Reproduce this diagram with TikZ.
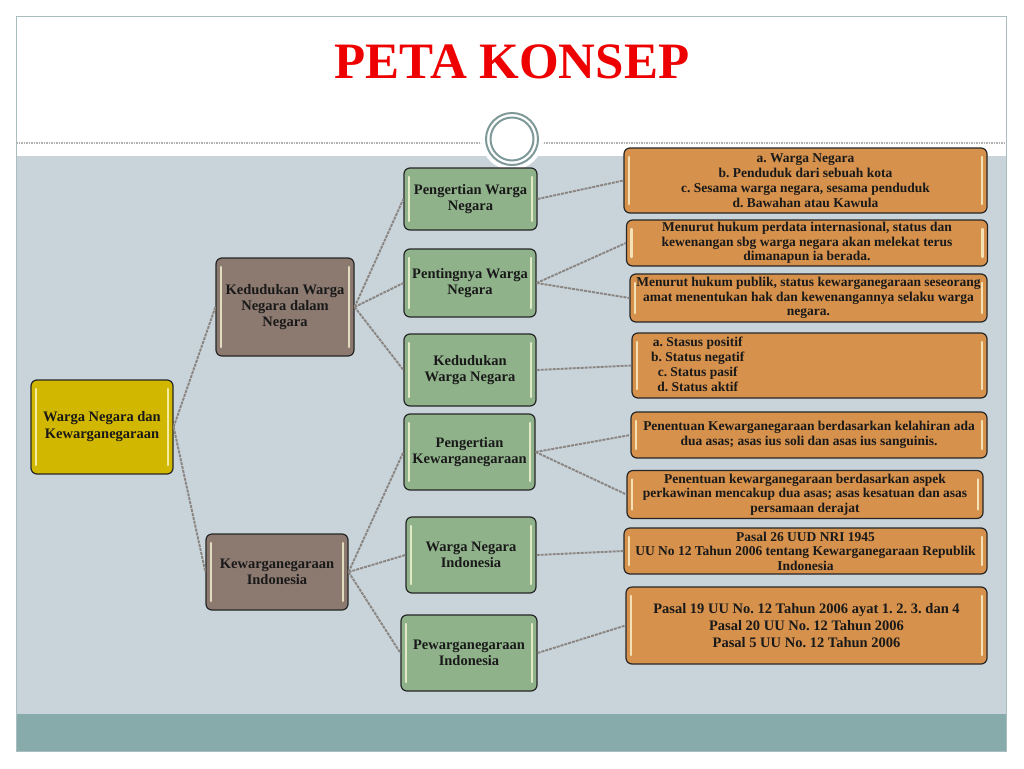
\documentclass[tikz,border=0pt]{standalone}
\usepackage{fontspec}
\setmainfont{Liberation Serif}
\usepackage{tikz}
\frenchspacing

\definecolor{slideGray}{HTML}{C8D3DA}
\definecolor{slideTeal}{HTML}{87ABAB}
\definecolor{frameLine}{HTML}{A9BDBF}
\definecolor{ringGray}{HTML}{7F9999}
\definecolor{titleRed}{HTML}{EE0000}
\definecolor{rootYellow}{HTML}{D2B700}
\definecolor{midBrown}{HTML}{8C7A70}
\definecolor{leafGreen}{HTML}{8FB28A}
\definecolor{noteOrange}{HTML}{D6914C}
\definecolor{linkGray}{HTML}{8A8580}

\begin{document}
\begin{tikzpicture}[x=1pt, y=-1pt,
  box/.style={draw=black!85, line width=1.2pt, rounded corners=6pt, inner sep=0pt,
    align=center, text=black!90,
    path picture={
      \draw[white!85!yellow, opacity=0.75, line width=2.4pt, line cap=round]
        ([xshift=5pt,yshift=-9pt]path picture bounding box.north west) --
        ([xshift=5pt,yshift=9pt]path picture bounding box.south west);
      \draw[white!85!yellow, opacity=0.75, line width=2.4pt, line cap=round]
        ([xshift=-5pt,yshift=-9pt]path picture bounding box.north east) --
        ([xshift=-5pt,yshift=9pt]path picture bounding box.south east);}},
  rootbox/.style={box, fill=rootYellow, font=\fontsize{14.5}{17}\selectfont\bfseries},
  midbox/.style={box, fill=midBrown, font=\fontsize{14.5}{16}\selectfont\bfseries},
  leafbox/.style={box, fill=leafGreen, font=\fontsize{14.5}{16}\selectfont\bfseries},
  notebox/.style={box, fill=noteOrange, font=\fontsize{13.5}{14.5}\selectfont\bfseries},
  link/.style={draw=linkGray, line width=1.9pt, dash pattern=on 3pt off 1pt}]
\useasboundingbox (0,0) rectangle (1024,768);
\fill[white] (0,0) rectangle (1024,768);
% slide
\fill[slideGray] (16,156) rectangle (1006,714);
\fill[slideTeal] (16,714) rectangle (1006,751);
\draw[frameLine, line width=1pt] (16,17) rectangle (1006,751);
\draw[gray!60, line width=1.2pt, dash pattern=on 1.5pt off 1pt] (16,143) -- (1006,143);
\fill[white] (512,139) circle (31);
\draw[ringGray, line width=2pt] (512,139) circle (26);
\draw[ringGray, line width=2pt] (512,139) circle (21.5);
\node[font=\fontsize{51}{51}\selectfont\bfseries, text=titleRed] (title) at (512,62) {PETA KONSEP};
%
\node[rootbox, minimum width=142pt, minimum height=94pt] (wnkw) at (102,427)
  {Warga Negara dan\\Kewarganegaraan};
\node[midbox, minimum width=138pt, minimum height=98pt] (kedneg) at (285,307)
  {Kedudukan Warga\\Negara dalam\\Negara};
\node[midbox, minimum width=142pt, minimum height=76pt] (kwind) at (277,572)
  {Kewarganegaraan\\Indonesia};
%
\node[leafbox, minimum width=133pt, minimum height=62pt] (pengwn) at (470.5,199)
  {Pengertian Warga\\Negara};
\node[leafbox, minimum width=132pt, minimum height=68pt] (pentwn) at (470,283)
  {Pentingnya Warga\\Negara};
\node[leafbox, minimum width=132pt, minimum height=72pt] (kedwn) at (470,370)
  {Kedudukan\\Warga Negara};
\node[leafbox, minimum width=131pt, minimum height=76pt] (pengkw) at (469.5,452)
  {Pengertian\\Kewarganegaraan};
\node[leafbox, minimum width=130pt, minimum height=76pt] (wni) at (471,555)
  {Warga Negara\\Indonesia};
\node[leafbox, minimum width=136pt, minimum height=76pt] (pewkw) at (469,653)
  {Pewarganegaraan\\Indonesia};
%
\node[notebox, minimum width=363pt, minimum height=65pt, font=\fontsize{13.5}{15}\selectfont\bfseries] (arti) at (805.5,180.5)
  {a. Warga Negara\\b. Penduduk dari sebuah kota\\c. Sesama warga negara, sesama penduduk\\d. Bawahan atau Kawula};
\node[notebox, minimum width=361pt, minimum height=46pt] (perdata) at (807,243)
  {Menurut hukum perdata internasional, status dan\\kewenangan sbg warga negara akan melekat terus\\dimanapun ia berada.};
\node[notebox, minimum width=357pt, minimum height=48pt] (publik) at (808.5,298)
  {Menurut hukum publik, status kewarganegaraan seseorang\\amat menentukan hak dan kewenangannya selaku warga\\negara.};
\node[notebox, minimum width=355pt, minimum height=65pt, font=\fontsize{13.5}{15}\selectfont\bfseries] (status) at (809.5,365.5)
  {\makebox[355pt][l]{\hspace{19pt}\begin{tabular}{@{}c@{}}a. Stasus positif\\b. Status negatif\\c. Status pasif\\d. Status aktif\end{tabular}}};
\node[notebox, minimum width=356pt, minimum height=46pt, font=\fontsize{13.5}{15}\selectfont\bfseries] (lahir) at (809,435)
  {Penentuan Kewarganegaraan berdasarkan kelahiran ada\\dua asas; asas ius soli dan asas ius sanguinis.};
\node[notebox, minimum width=356pt, minimum height=48pt] (kawin) at (805,494.5)
  {Penentuan kewarganegaraan berdasarkan aspek\\perkawinan mencakup dua asas; asas kesatuan dan asas\\persamaan derajat};
\node[notebox, minimum width=363pt, minimum height=46pt] (dasarwni) at (805.5,551)
  {Pasal 26 UUD NRI 1945\\UU No 12 Tahun 2006 tentang Kewarganegaraan Republik\\Indonesia};
\node[notebox, minimum width=361pt, minimum height=77pt, font=\fontsize{14.5}{17}\selectfont\bfseries] (dasarpew) at (806.5,625.5)
  {Pasal 19 UU No. 12 Tahun 2006 ayat 1. 2. 3. dan 4\\Pasal 20 UU No. 12 Tahun 2006\\Pasal 5 UU No. 12 Tahun 2006};
%
\draw[link] (wnkw.east) -- (kedneg.west);
\draw[link] (wnkw.east) -- (kwind.west);
%
\draw[link] (kedneg.east) -- (pengwn.west);
\draw[link] (kedneg.east) -- (pentwn.west);
\draw[link] (kedneg.east) -- (kedwn.west);
\draw[link] (kwind.east) -- (pengkw.west);
\draw[link] (kwind.east) -- (wni.west);
\draw[link] (kwind.east) -- (pewkw.west);
%
\draw[link] (pengwn.east) -- (arti.west);
\draw[link] (pentwn.east) -- (perdata.west);
\draw[link] (pentwn.east) -- (publik.west);
\draw[link] (kedwn.east) -- (status.west);
\draw[link] (pengkw.east) -- (lahir.west);
\draw[link] (pengkw.east) -- (kawin.west);
\draw[link] (wni.east) -- (dasarwni.west);
\draw[link] (pewkw.east) -- (dasarpew.west);
\end{tikzpicture}
\end{document}
